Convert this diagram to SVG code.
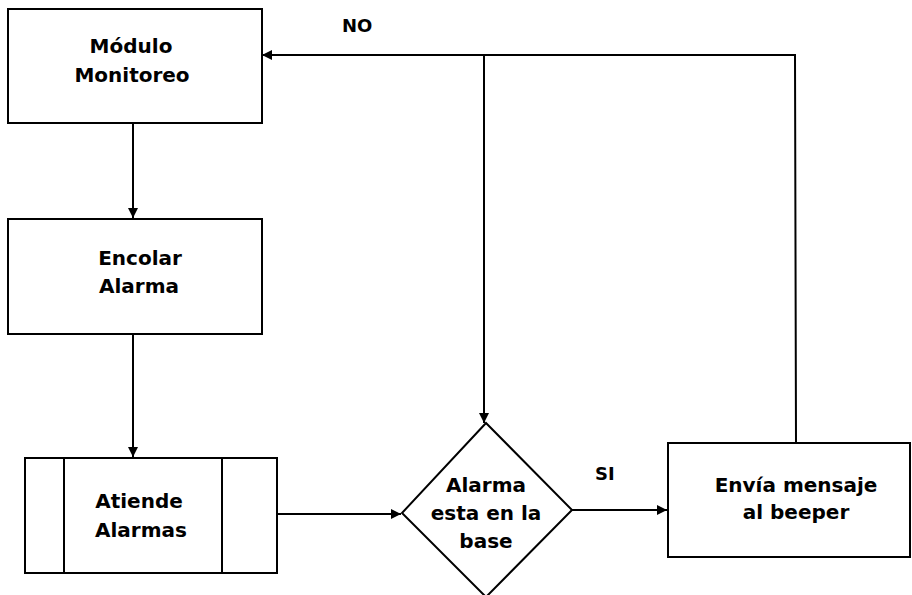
<svg xmlns="http://www.w3.org/2000/svg" width="912" height="595" viewBox="0 0 912 595">
<style>
.box{fill:#fff;stroke:#000;stroke-width:2}
.ln{fill:none;stroke:#000;stroke-width:2}
.t{font-family:"DejaVu Sans","Liberation Sans",Arial,sans-serif;font-weight:bold;font-size:20px;fill:#000;text-anchor:middle}
.lbl{font-family:"DejaVu Sans","Liberation Sans",Arial,sans-serif;font-weight:bold;font-size:18px;fill:#000}
</style>
<defs>
<marker id="ah" markerWidth="12" markerHeight="12" refX="10" refY="6" orient="auto" markerUnits="userSpaceOnUse">
<path d="M0,1 L10,6 L0,11 Z" fill="#000"/>
</marker>
</defs>
<rect width="912" height="595" fill="#fff"/>
<g id="connectors">
<line class="ln" x1="133" y1="123" x2="133" y2="218" marker-end="url(#ah)"/>
<line class="ln" x1="133" y1="334" x2="133" y2="457" marker-end="url(#ah)"/>
<line class="ln" x1="277" y1="514" x2="401" y2="514" marker-end="url(#ah)"/>
<line class="ln" x1="572" y1="510" x2="667" y2="510" marker-end="url(#ah)"/>
<polyline class="ln" points="796,443 795,55 262,55" marker-end="url(#ah)"/>
<line class="ln" x1="484" y1="55" x2="484" y2="423" marker-end="url(#ah)"/>
</g>
<g id="modulo">
<rect class="box" x="8" y="9" width="254" height="114"/>
<text class="t" x="131" y="53">Módulo</text>
<text class="t" x="132" y="82">Monitoreo</text>
</g>
<g id="encolar">
<rect class="box" x="8" y="219" width="254" height="115"/>
<text class="t" x="140" y="265">Encolar</text>
<text class="t" x="139" y="293">Alarma</text>
</g>
<g id="atiende">
<rect class="box" x="25" y="458" width="252" height="115"/>
<line class="ln" x1="64" y1="458" x2="64" y2="573"/>
<line class="ln" x1="222" y1="458" x2="222" y2="573"/>
<text class="t" x="139" y="508">Atiende</text>
<text class="t" x="141" y="537">Alarmas</text>
</g>
<g id="decision">
<polygon class="box" points="486,423 572,510 486,597 402,513"/>
<text class="t" x="486" y="492">Alarma</text>
<text class="t" x="486" y="520">esta en la</text>
<text class="t" x="486" y="548">base</text>
</g>
<g id="envia">
<rect class="box" x="668" y="443" width="242" height="114"/>
<text class="t" x="796" y="492">Envía mensaje</text>
<text class="t" x="796" y="519">al beeper</text>
</g>
<g id="labels">
<text class="lbl" x="342" y="32">NO</text>
<text class="lbl" x="595" y="480">SI</text>
</g>
</svg>
